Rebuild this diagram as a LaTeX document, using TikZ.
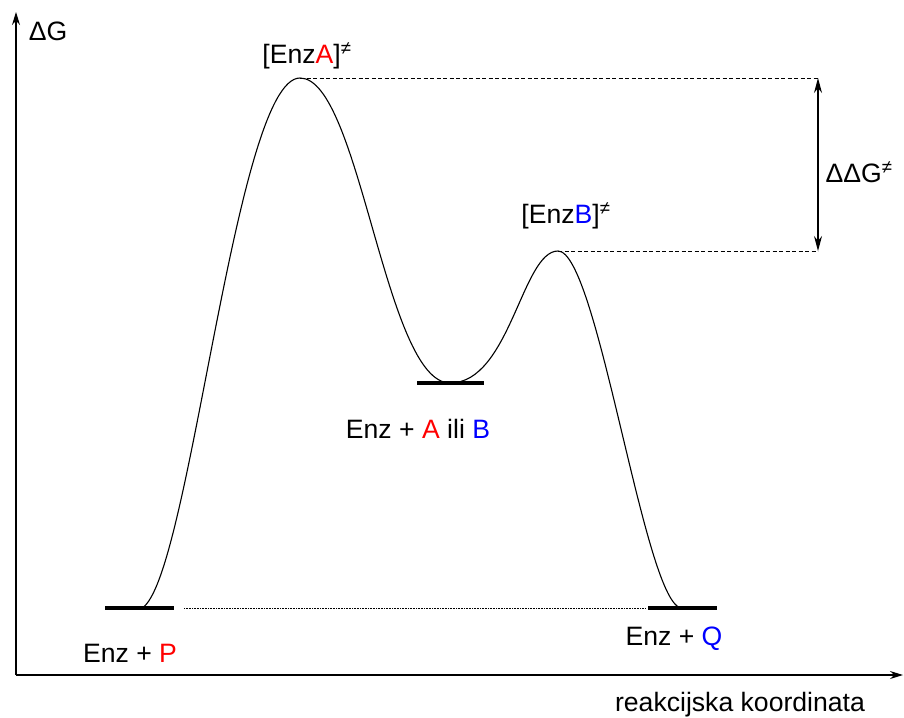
\documentclass[tikz,border=0pt]{standalone}
\usepackage{fontspec}
\setmainfont{Liberation Sans}
\usetikzlibrary{arrows.meta}
\definecolor{myred}{RGB}{255,0,0}
\definecolor{myblue}{RGB}{0,0,255}
\begin{document}
\begin{tikzpicture}[x=1pt,y=-1pt,
  lbl/.style={inner sep=0pt,font=\fontsize{26.6}{30}\selectfont},
  levelbar/.style={line width=4pt},
  axis/.style={line width=1.3pt,-{Stealth[length=13pt,width=8pt]}},
  guide/.style={line width=0.9pt,dash pattern=on 4pt off 2.5pt},
  curve/.style={line width=1.1pt}]
\useasboundingbox (0,0) rectangle (904,717);
% axes
\coordinate (O) at (16,675);
\coordinate (Ytop) at (16,12);
\coordinate (Xend) at (903,675);
\draw[axis] (O) -- (Ytop);
\draw[axis] (O) -- (Xend);
% key points
\coordinate (P0) at (142,608);
\coordinate (TA) at (300,78);
\coordinate (M) at (450,383);
\coordinate (TB) at (558,251);
\coordinate (Q0) at (682,608);
% energy curve
\draw[curve] (P0) .. controls (190,580) and (235,78) .. (TA)
  .. controls (360,78) and (385,383) .. (M)
  .. controls (510,383) and (522,251) .. (TB)
  .. controls (598,251) and (645,608) .. (Q0);
% level bars
\coordinate (Pl) at (105,608); \coordinate (Pr) at (174,608);
\coordinate (Ml) at (417,383); \coordinate (Mr) at (484,383);
\coordinate (Ql) at (648,608); \coordinate (Qr) at (717,608);
\draw[levelbar] (Pl) -- (Pr);
\draw[levelbar] (Ml) -- (Mr);
\draw[levelbar] (Ql) -- (Qr);
% dotted baseline
\coordinate (Da) at (184,608); \coordinate (Db) at (646,608);
\draw[line width=0.6pt,densely dotted] (Da) -- (Db);
% dashed guides
\coordinate (GA) at (818,78);
\coordinate (GB) at (818,251);
\draw[guide] (TA) -- (GA);
\draw[guide] (TB) -- (GB);
\draw[line width=1.1pt,{Stealth[length=15pt,width=8pt]}-{Stealth[length=15pt,width=8pt]}] (GA) -- (GB);
% labels
\node[lbl] (dG) at (48,31) {ΔG};
\node[lbl] (lA) at (307,56) {[Enz\textcolor{myred}{A}]\textsuperscript{≠}};
\node[lbl] (lB) at (566,216) {[Enz\textcolor{myblue}{B}]\textsuperscript{≠}};
\node[lbl] (ddG) at (859,172) {ΔΔG\textsuperscript{≠}};
\node[lbl] (lM) at (418,429) {Enz + \textcolor{myred}{A} ili \textcolor{myblue}{B}};
\node[lbl] (lP) at (130,653) {Enz + \textcolor{myred}{P}};
\node[lbl] (lQ) at (674,639) {Enz + \textcolor{myblue}{Q}};
\node[lbl] (lX) at (740,705) {reakcijska koordinata};
\end{tikzpicture}
\end{document}
